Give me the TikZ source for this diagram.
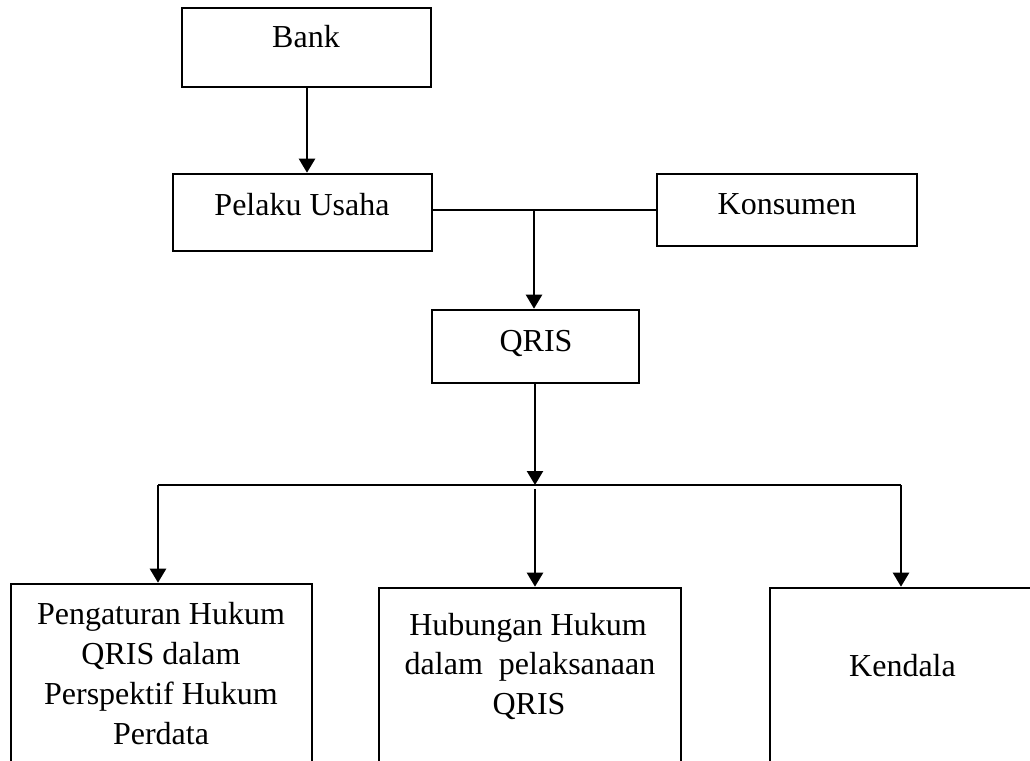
\documentclass[tikz,border=0pt]{standalone}
\usepackage{fontspec}
\setmainfont{Liberation Serif}
\usetikzlibrary{arrows.meta}
\begin{document}
\begin{tikzpicture}[x=1pt,y=-1pt,
  box/.style={draw, line width=2.6pt, inner sep=0pt, rectangle},
  txt/.style={anchor=base, inner sep=0pt, font=\fontsize{32}{40}\selectfont},
  arr/.style={line width=2.4pt, -{Triangle[length=14pt,width=16pt]}},
  thinline/.style={line width=1.4pt}]
\useasboundingbox (0,0) rectangle (1030,760);
\clip (0,0) rectangle (1030,760);
% boxes
\node[box, minimum width=249pt, minimum height=79pt] (bank) at (306.5,47.5) {};
\node[box, minimum width=259pt, minimum height=77pt] (pelaku) at (302.5,212.5) {};
\node[box, minimum width=260pt, minimum height=72pt] (konsumen) at (787,210) {};
\node[box, minimum width=207pt, minimum height=73pt] (qris) at (535.5,346.5) {};
\node[box, minimum width=301pt, minimum height=206pt] (b1) at (161.5,687) {};
\node[box, minimum width=302pt, minimum height=202pt] (b2) at (530,689) {};
\node[box, minimum width=270pt, minimum height=202pt] (b3) at (905,689) {};
% texts
\node[txt] (tbank) at (306,48) {Bank};
\node[txt] (tpel) at (302,215) {Pelaku Usaha};
\node[txt] (tkon) at (787,214) {Konsumen};
\node[txt] (tqris) at (536,351) {QRIS};
\node[txt] (t1a) at (161,624) {Pengaturan Hukum};
\node[txt] (t1b) at (161,664) {QRIS dalam};
\node[txt] (t1c) at (161,704) {Perspektif Hukum};
\node[txt] (t1d) at (161,744) {Perdata};
\node[txt] (t2a) at (528,635) {Hubungan Hukum};
\node[txt] (t2b) at (530,674) {dalam\ \ pelaksanaan};
\node[txt] (t2c) at (529,714) {QRIS};
\node[txt] (t3) at (902.5,676) {Kendala};
% junction points
\coordinate (ja) at (534,210);
\coordinate (jb) at (535,485);
\coordinate (jl) at (158,485);
\coordinate (jr) at (901,485);
\coordinate (jm) at (535,489);
% connectors
\draw[arr] (bank.south -| 307,0) -- (pelaku.north -| 307,0);
\draw[thinline] (pelaku.east |- ja) -- (konsumen.west |- ja);
\draw[arr] (ja) -- (qris.north -| ja);
\draw[arr] (qris.south -| jb) -- (jb);
\draw[thinline] (jl) -- (jr);
\draw[arr] (jl) -- (b1.north -| jl);
\draw[arr] (jm) -- (b2.north -| jm);
\draw[arr] (jr) -- (b3.north -| jr);
\end{tikzpicture}
\end{document}
